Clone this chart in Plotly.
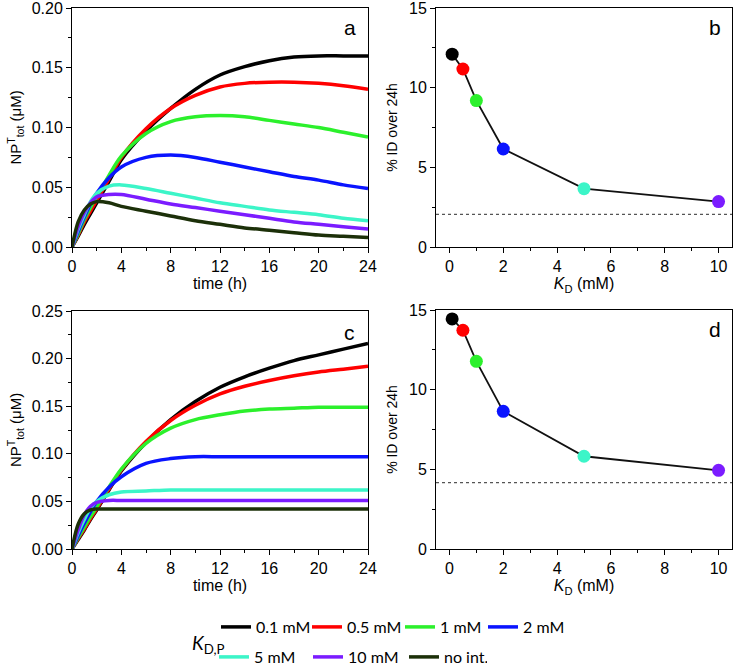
import plotly.graph_objects as go

# ---------------- data ----------------
time_h = [0, 0.5, 1, 1.5, 2, 3, 4, 6, 8, 10, 12, 14, 16, 18, 20, 22, 24]

series_labels = ["0.1 mM", "0.5 mM", "1 mM", "2 mM", "5 mM", "10 mM", "no int."]
series_colors = ["#000000", "#ff0000", "#2cf02c", "#0a14ff", "#3cf5c8", "#7b1cff", "#1c3009"]

# panel a
a_01 = [0, 0.009, 0.019, 0.028, 0.037, 0.055, 0.073, 0.097, 0.116, 0.132, 0.144, 0.151, 0.156, 0.159, 0.160, 0.160, 0.160]
a_05 = [0, 0.010, 0.021, 0.030, 0.039, 0.057, 0.075, 0.099, 0.116, 0.127, 0.134, 0.137, 0.138, 0.138, 0.137, 0.135, 0.132]
a_1 = [0, 0.011, 0.023, 0.033, 0.042, 0.060, 0.076, 0.095, 0.105, 0.109, 0.110, 0.109, 0.106, 0.103, 0.100, 0.096, 0.092]
a_2 = [0, 0.013, 0.025, 0.036, 0.045, 0.058, 0.067, 0.075, 0.077, 0.075, 0.071, 0.067, 0.063, 0.059, 0.056, 0.052, 0.049]
a_5 = [0, 0.015, 0.027, 0.038, 0.045, 0.051, 0.052, 0.049, 0.045, 0.041, 0.037, 0.034, 0.031, 0.029, 0.027, 0.024, 0.022]
a_10 = [0, 0.017, 0.029, 0.037, 0.042, 0.044, 0.044, 0.040, 0.036, 0.033, 0.030, 0.027, 0.024, 0.021, 0.019, 0.017, 0.015]
a_noint = [0, 0.021, 0.031, 0.036, 0.038, 0.037, 0.034, 0.030, 0.026, 0.022, 0.019, 0.016, 0.014, 0.012, 0.010, 0.009, 0.008]

# panel c
c_01 = [0, 0.010, 0.020, 0.031, 0.041, 0.062, 0.082, 0.112, 0.136, 0.155, 0.170, 0.181, 0.190, 0.198, 0.204, 0.210, 0.216]
c_05 = [0, 0.011, 0.021, 0.032, 0.042, 0.063, 0.083, 0.113, 0.135, 0.151, 0.163, 0.171, 0.177, 0.182, 0.186, 0.189, 0.192]
c_1 = [0, 0.012, 0.023, 0.034, 0.044, 0.065, 0.084, 0.111, 0.127, 0.136, 0.141, 0.145, 0.147, 0.148, 0.149, 0.149, 0.149]
c_2 = [0, 0.014, 0.027, 0.039, 0.050, 0.065, 0.076, 0.090, 0.095, 0.097, 0.097, 0.097, 0.097, 0.097, 0.097, 0.097, 0.097]
c_5 = [0, 0.017, 0.031, 0.043, 0.050, 0.057, 0.060, 0.061, 0.062, 0.062, 0.062, 0.062, 0.062, 0.062, 0.062, 0.062, 0.062]
c_10 = [0, 0.020, 0.036, 0.045, 0.049, 0.051, 0.051, 0.051, 0.051, 0.051, 0.051, 0.051, 0.051, 0.051, 0.051, 0.051, 0.051]
c_noint = [0, 0.026, 0.037, 0.041, 0.042, 0.042, 0.042, 0.042, 0.042, 0.042, 0.042, 0.042, 0.042, 0.042, 0.042, 0.042, 0.042]

# panels b, d
kd_mM = [0.1, 0.5, 1, 2, 5, 10]
id_b = [12.1, 11.17, 9.19, 6.15, 3.66, 2.85]
id_d = [14.44, 13.73, 11.78, 8.64, 5.82, 4.94]
baseline_b = 2.05
baseline_d = 4.16

x_ticks_time = [0, 4, 8, 12, 16, 20, 24]

# ---------------- figure ----------------
W, H = 734, 667
def px_x(p): return p / W
def px_y(p): return 1 - p / H

fig = go.Figure()

a_series = [a_01, a_05, a_1, a_2, a_5, a_10, a_noint]
c_series = [c_01, c_05, c_1, c_2, c_5, c_10, c_noint]
legend_widths = [46, 48, 38, 46, 49, 51, 38]

for i, (lab, col) in enumerate(zip(series_labels, series_colors)):
    fig.add_trace(go.Scatter(
        x=time_h, y=a_series[i], mode="lines", name=lab,
        line=dict(color=col, width=3.5, shape="spline", smoothing=0.9),
        xaxis="x", yaxis="y",
        legend="legend" if i < 4 else "legend2",
        legendwidth=legend_widths[i],
        showlegend=True))
for i, (lab, col) in enumerate(zip(series_labels, series_colors)):
    fig.add_trace(go.Scatter(
        x=time_h, y=c_series[i], mode="lines", name=lab,
        line=dict(color=col, width=3.5, shape="spline", smoothing=0.9),
        xaxis="x3", yaxis="y3", showlegend=False))

for xa, ya, vals, base in [("x2", "y2", id_b, baseline_b), ("x4", "y4", id_d, baseline_d)]:
    fig.add_trace(go.Scatter(
        x=[-0.5, 10.5], y=[base, base], mode="lines",
        line=dict(color="#555555", width=1.2, dash="dot"),
        xaxis=xa, yaxis=ya, showlegend=False, hoverinfo="skip"))
    fig.add_trace(go.Scatter(
        x=kd_mM, y=vals, mode="lines+markers",
        line=dict(color="#111111", width=1.8),
        marker=dict(size=13, color=series_colors[:6], line=dict(width=0)),
        xaxis=xa, yaxis=ya, showlegend=False))

FONT = "Liberation Sans, Arial, sans-serif"
tick_font = dict(family=FONT, size=16, color="black")
title_font = dict(family=FONT, size=16, color="black")

def axis_common():
    return dict(showline=True, linecolor="black", linewidth=1, mirror=True,
                ticks="outside", ticklen=5, tickwidth=1, tickcolor="black",
                showgrid=False, zeroline=False, tickfont=tick_font, automargin=False,
                ticklabeloverflow="allow")

def minor(d):
    return dict(ticks="outside", ticklen=3, dtick=d, tick0=0, tickcolor="black")

xa_dom = [px_x(72), px_x(368)]
xb_dom = [px_x(436), px_x(732)]
y_top = [px_y(247), px_y(8)]
y_bot = [px_y(549), px_y(311)]

np_title = "NP<sup>T</sup><sub>tot</sub> (μM)"
kd_title = "<i>K</i><sub>D</sub> (mM)"
id_title = "% ID over 24h"

legend_font = dict(family="Lato, Noto Sans, sans-serif", size=16, color="black")

layout = dict(
    width=W, height=H,
    margin=dict(l=0, r=0, t=0, b=0, autoexpand=False),
    paper_bgcolor="white", plot_bgcolor="white",
    font=dict(family=FONT, color="black"),
    xaxis=dict(**axis_common(), domain=xa_dom, anchor="y", range=[0, 24],
               tickvals=x_ticks_time, minor=minor(2),
               title=dict(text="time (h)", font=title_font, standoff=2)),
    yaxis=dict(**axis_common(), domain=y_top, anchor="x", range=[0, 0.2001],
               dtick=0.05, tickformat=".2f", minor=minor(0.025),
               title=dict(text=np_title, font=dict(title_font, size=15), standoff=6)),
    xaxis2=dict(**axis_common(), domain=xb_dom, anchor="y2", range=[-0.5, 10.5],
                dtick=2, tick0=0, minor=minor(1),
                title=dict(text=kd_title, font=title_font, standoff=2)),
    yaxis2=dict(**axis_common(), domain=y_top, anchor="x2", range=[0, 15],
                dtick=5, minor=minor(2.5),
                title=dict(text=id_title, font=dict(title_font, size=14), standoff=8)),
    xaxis3=dict(**axis_common(), domain=xa_dom, anchor="y3", range=[0, 24],
                tickvals=x_ticks_time, minor=minor(2),
                title=dict(text="time (h)", font=title_font, standoff=2)),
    yaxis3=dict(**axis_common(), domain=y_bot, anchor="x3", range=[0, 0.2501],
                dtick=0.05, tickformat=".2f", minor=minor(0.025),
                title=dict(text=np_title, font=dict(title_font, size=15), standoff=6)),
    xaxis4=dict(**axis_common(), domain=xb_dom, anchor="y4", range=[-0.5, 10.5],
                dtick=2, tick0=0, minor=minor(1),
                title=dict(text=kd_title, font=title_font, standoff=2)),
    yaxis4=dict(**axis_common(), domain=[px_y(549), px_y(310)], anchor="x4", range=[0, 15],
                dtick=5, minor=minor(2.5),
                title=dict(text=id_title, font=dict(title_font, size=14), standoff=8)),
    legend=dict(orientation="h", xref="container", yref="container",
                x=px_x(216), y=px_y(627), xanchor="left", yanchor="middle",
                font=legend_font, bgcolor="rgba(0,0,0,0)", itemwidth=30, entrywidthmode="pixels"),
    legend2=dict(orientation="h", xref="container", yref="container",
                 x=px_x(214), y=px_y(657), xanchor="left", yanchor="middle",
                 font=legend_font, bgcolor="rgba(0,0,0,0)", itemwidth=30, entrywidthmode="pixels"),
    showlegend=True,
)
fig.update_layout(**layout)

letter_font = dict(family=FONT, size=21, color="black")
for txt, xp, yp in [("a", 350, 27), ("b", 715, 27), ("c", 349, 332), ("d", 715, 330)]:
    fig.add_annotation(text=txt, x=px_x(xp), y=px_y(yp), xref="paper", yref="paper",
                       showarrow=False, font=letter_font, xanchor="center", yanchor="middle")

fig.add_annotation(text="<i>K</i><sub>D,P</sub>", x=px_x(208), y=px_y(644), xref="paper", yref="paper",
                   showarrow=False, font=dict(family="Lato, Noto Sans, sans-serif", size=19, color="black"),
                   xanchor="center", yanchor="middle")

fig.write_html("out.html", config={"displayModeBar": False},
               post_script="document.body.style.margin='0';")
